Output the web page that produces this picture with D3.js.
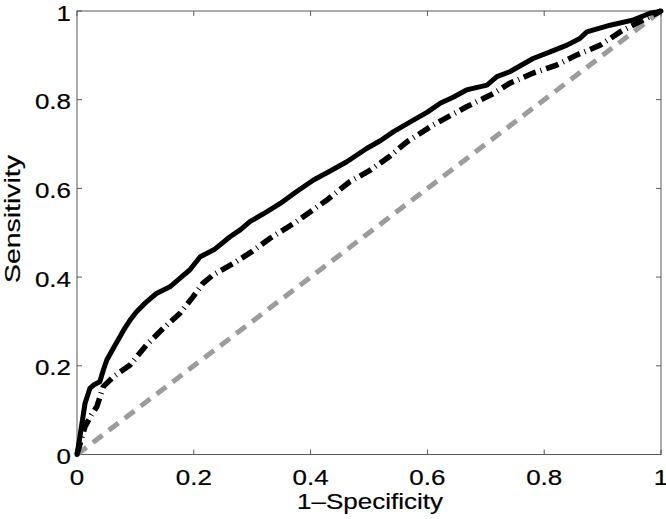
<!DOCTYPE html>
<html>
<head>
<meta charset="utf-8">
<script src="https://cdn.jsdelivr.net/npm/d3@7"></script>
<style>
  body { margin: 0; background: #fff; }
  text { font-family: "Liberation Sans", Arial, Helvetica, sans-serif; fill: #000; stroke: #000; stroke-width: 0.2px; }
</style>
</head>
<body>
<div id="chart"></div>
<script>
// ROC curves
const fprSolid = [0, 0.005, 0.0137, 0.022, 0.03, 0.039, 0.045, 0.051, 0.062, 0.072, 0.082, 0.092, 0.102, 0.118, 0.136, 0.159, 0.176, 0.193, 0.211, 0.235, 0.262, 0.28, 0.296, 0.322, 0.348, 0.375, 0.405, 0.432, 0.462, 0.496, 0.52, 0.542, 0.576, 0.6, 0.622, 0.645, 0.667, 0.702, 0.719, 0.741, 0.781, 0.81, 0.839, 0.861, 0.873, 0.913, 0.953, 0.981, 0.993, 1];
const tprSolid = [0, 0.04, 0.115, 0.149, 0.158, 0.164, 0.19, 0.213, 0.239, 0.262, 0.285, 0.305, 0.322, 0.343, 0.363, 0.378, 0.397, 0.416, 0.446, 0.462, 0.491, 0.507, 0.525, 0.545, 0.566, 0.592, 0.619, 0.638, 0.66, 0.69, 0.708, 0.728, 0.754, 0.772, 0.792, 0.806, 0.822, 0.833, 0.852, 0.863, 0.893, 0.908, 0.923, 0.938, 0.953, 0.968, 0.98, 0.995, 0.998, 1];

const fprDashDot = [0, 0.0137, 0.025, 0.034, 0.045, 0.062, 0.091, 0.119, 0.148, 0.176, 0.199, 0.215, 0.233, 0.268, 0.3, 0.33, 0.376, 0.428, 0.467, 0.502, 0.535, 0.565, 0.61, 0.667, 0.713, 0.741, 0.781, 0.821, 0.856, 0.896, 0.93, 0.964, 1];
const tprDashDot = [0, 0.063, 0.09, 0.108, 0.153, 0.175, 0.202, 0.247, 0.285, 0.318, 0.356, 0.385, 0.405, 0.431, 0.458, 0.487, 0.525, 0.574, 0.615, 0.641, 0.672, 0.705, 0.743, 0.784, 0.814, 0.837, 0.86, 0.878, 0.901, 0.923, 0.953, 0.976, 1];

const fprChance = [0, 1];
const tprChance = [0, 1];

const tickValues = [0, 0.2, 0.4, 0.6, 0.8, 1];
const tickLabels = ["0", "0.2", "0.4", "0.6", "0.8", "1"];

const width = 666, height = 519;
const margin = {left: 77, right: 5, top: 11, bottom: 64.5};

const svg = d3.select("#chart").append("svg")
    .attr("width", width)
    .attr("height", height);

const x = d3.scaleLinear().domain([0, 1]).range([margin.left, width - margin.right]);
const y = d3.scaleLinear().domain([0, 1]).range([height - margin.bottom, margin.top]);

const line = d3.line().x(d => x(d[0])).y(d => y(d[1]));
const zipPts = (a, b) => a.map((v, i) => [v, b[i]]);

// box and inward ticks on every side
const axisColor = "#5a5a5a";
svg.append("rect")
    .attr("x", x(0)).attr("y", y(1))
    .attr("width", x(1) - x(0)).attr("height", y(0) - y(1))
    .attr("fill", "none").attr("stroke", axisColor).attr("stroke-width", 1);

const ticks = svg.append("g").attr("stroke", axisColor).attr("stroke-width", 1);
tickValues.forEach(t => {
    ticks.append("line").attr("x1", x(t)).attr("x2", x(t)).attr("y1", y(0)).attr("y2", y(0) - 5);
    ticks.append("line").attr("x1", x(t)).attr("x2", x(t)).attr("y1", y(1)).attr("y2", y(1) + 5);
    ticks.append("line").attr("y1", y(t)).attr("y2", y(t)).attr("x1", x(0)).attr("x2", x(0) + 5);
    ticks.append("line").attr("y1", y(t)).attr("y2", y(t)).attr("x1", x(1)).attr("x2", x(1) - 5);
});

// the reference glyphs are wider than Arial, stretch them a bit
function widen(sel, k) {
    sel.each(function() {
        const w = this.getComputedTextLength();
        d3.select(this).attr("textLength", w * k).attr("lengthAdjust", "spacingAndGlyphs");
    });
}

svg.append("g").selectAll("text")
    .data(tickValues)
    .enter().append("text")
    .attr("x", d => x(d))
    .attr("y", 485)
    .attr("text-anchor", "middle")
    .style("font-size", "22px")
    .text((d, i) => tickLabels[i])
    .call(widen, 1.18);

svg.append("g").selectAll("text")
    .data(tickValues)
    .enter().append("text")
    .attr("x", 71)
    .attr("y", d => y(d) + 9.5)
    .attr("text-anchor", "end")
    .style("font-size", "22px")
    .text((d, i) => tickLabels[i])
    .call(widen, 1.18);

svg.append("text")
    .attr("x", 370)
    .attr("y", 509)
    .attr("text-anchor", "middle")
    .style("font-size", "22px")
    .text("1\u2013Specificity")
    .attr("textLength", 146).attr("lengthAdjust", "spacingAndGlyphs");

svg.append("text")
    .attr("transform", "translate(20,219) rotate(-90)")
    .attr("text-anchor", "middle")
    .style("font-size", "22px")
    .text("Sensitivity")
    .attr("textLength", 128).attr("lengthAdjust", "spacingAndGlyphs");

// chance diagonal
svg.append("path")
    .attr("d", line(zipPts(fprChance, tprChance)))
    .attr("fill", "none")
    .attr("stroke", "#9c9c9c")
    .attr("stroke-width", 5)
    .attr("stroke-dasharray", "12,8");

// dash-dot curve
svg.append("path")
    .attr("d", line(zipPts(fprDashDot, tprDashDot)))
    .attr("fill", "none")
    .attr("stroke", "#000")
    .attr("stroke-width", 5.5)
    .attr("stroke-dasharray", "13,5,1,5");

// solid curve
svg.append("path")
    .attr("d", line(zipPts(fprSolid, tprSolid)))
    .attr("fill", "none")
    .attr("stroke", "#000")
    .attr("stroke-width", 5)
    .attr("stroke-linejoin", "round")
    .attr("stroke-linecap", "round");
</script>
</body>
</html>
